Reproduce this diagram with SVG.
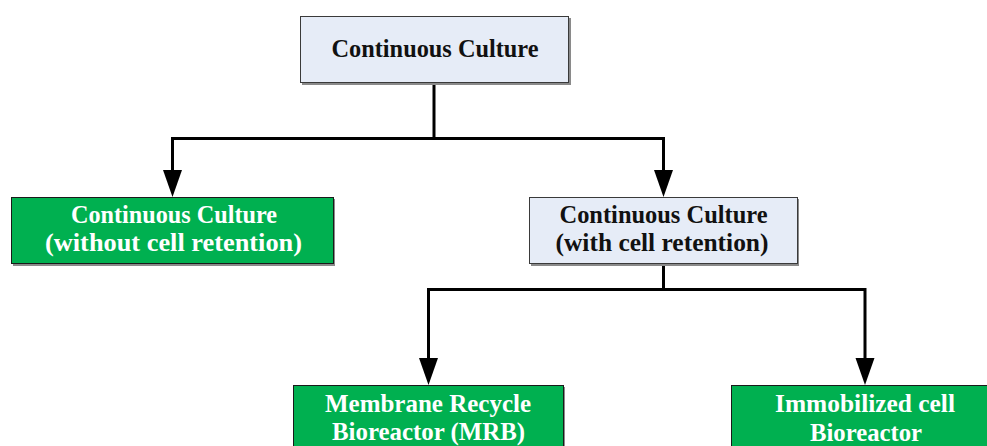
<svg xmlns="http://www.w3.org/2000/svg" width="987" height="446" viewBox="0 0 987 446">
  <style>
    .shadow { fill: #8a8a8a; }
    .blue { fill: #e6ecf7; stroke: #3a3a3a; stroke-width: 1; }
    .green { fill: #00b050; stroke: #1a1a1a; stroke-width: 1; }
    .t { font-family: "Liberation Serif", "DejaVu Serif", serif; font-weight: bold; font-size: 25px; text-anchor: middle; }
    .dark { fill: #111; }
    .light { fill: #fff; }
    .wire { fill: none; stroke: #000; stroke-width: 3; }
    .head { fill: #000; }
  </style>

  <rect width="987" height="446" fill="#fff"/>

  <g id="connectors">
    <polyline class="wire" points="434,83 434,138.5"/>
    <polyline class="wire" points="172.5,170 172.5,138.5 663.5,138.5 663.5,170"/>
    <path class="head" d="M163,170 L182,170 L172.5,197 Z"/>
    <path class="head" d="M654,170 L673,170 L663.5,197 Z"/>
    <polyline class="wire" points="663.5,265 663.5,289.5"/>
    <polyline class="wire" points="428.5,358 428.5,289.5 865,289.5 865,358"/>
    <path class="head" d="M419,358 L438,358 L428.5,385 Z"/>
    <path class="head" d="M855.5,358 L874.5,358 L865,385 Z"/>
  </g>

  <g id="continuous-culture">
    <rect class="shadow" x="302" y="18" width="269" height="67"/>
    <rect class="blue" x="300.5" y="16.5" width="268" height="66"/>
    <text class="t dark" x="435" y="57" textLength="207" lengthAdjust="spacingAndGlyphs">Continuous Culture</text>
  </g>

  <g id="without-retention">
    <rect class="shadow" x="13" y="199" width="322" height="67"/>
    <rect class="green" x="11.5" y="197.5" width="322" height="66"/>
    <text class="t light" x="174" y="223" textLength="206" lengthAdjust="spacingAndGlyphs">Continuous Culture</text>
    <text class="t light" x="173.5" y="251" textLength="257" lengthAdjust="spacingAndGlyphs">(without cell retention)</text>
  </g>

  <g id="with-retention">
    <rect class="shadow" x="531" y="199" width="268" height="67"/>
    <rect class="blue" x="529.5" y="197.5" width="268" height="66"/>
    <text class="t dark" x="663.5" y="223" textLength="208" lengthAdjust="spacingAndGlyphs">Continuous Culture</text>
    <text class="t dark" x="662" y="251" textLength="213" lengthAdjust="spacingAndGlyphs">(with cell retention)</text>
  </g>

  <g id="membrane-recycle">
    <rect class="shadow" x="295" y="387" width="270" height="70"/>
    <rect class="green" x="293.5" y="385.5" width="270" height="70"/>
    <text class="t light" x="428" y="412" textLength="206" lengthAdjust="spacingAndGlyphs">Membrane Recycle</text>
    <text class="t light" x="428.5" y="440" textLength="193" lengthAdjust="spacingAndGlyphs">Bioreactor (MRB)</text>
  </g>

  <g id="immobilized-cell">
    <rect class="shadow" x="733" y="387" width="266" height="70"/>
    <rect class="green" x="731.5" y="385.5" width="266" height="70"/>
    <text class="t light" x="865" y="412" textLength="180" lengthAdjust="spacingAndGlyphs">Immobilized cell</text>
    <text class="t light" x="866" y="441" textLength="112" lengthAdjust="spacingAndGlyphs">Bioreactor</text>
  </g>
</svg>
